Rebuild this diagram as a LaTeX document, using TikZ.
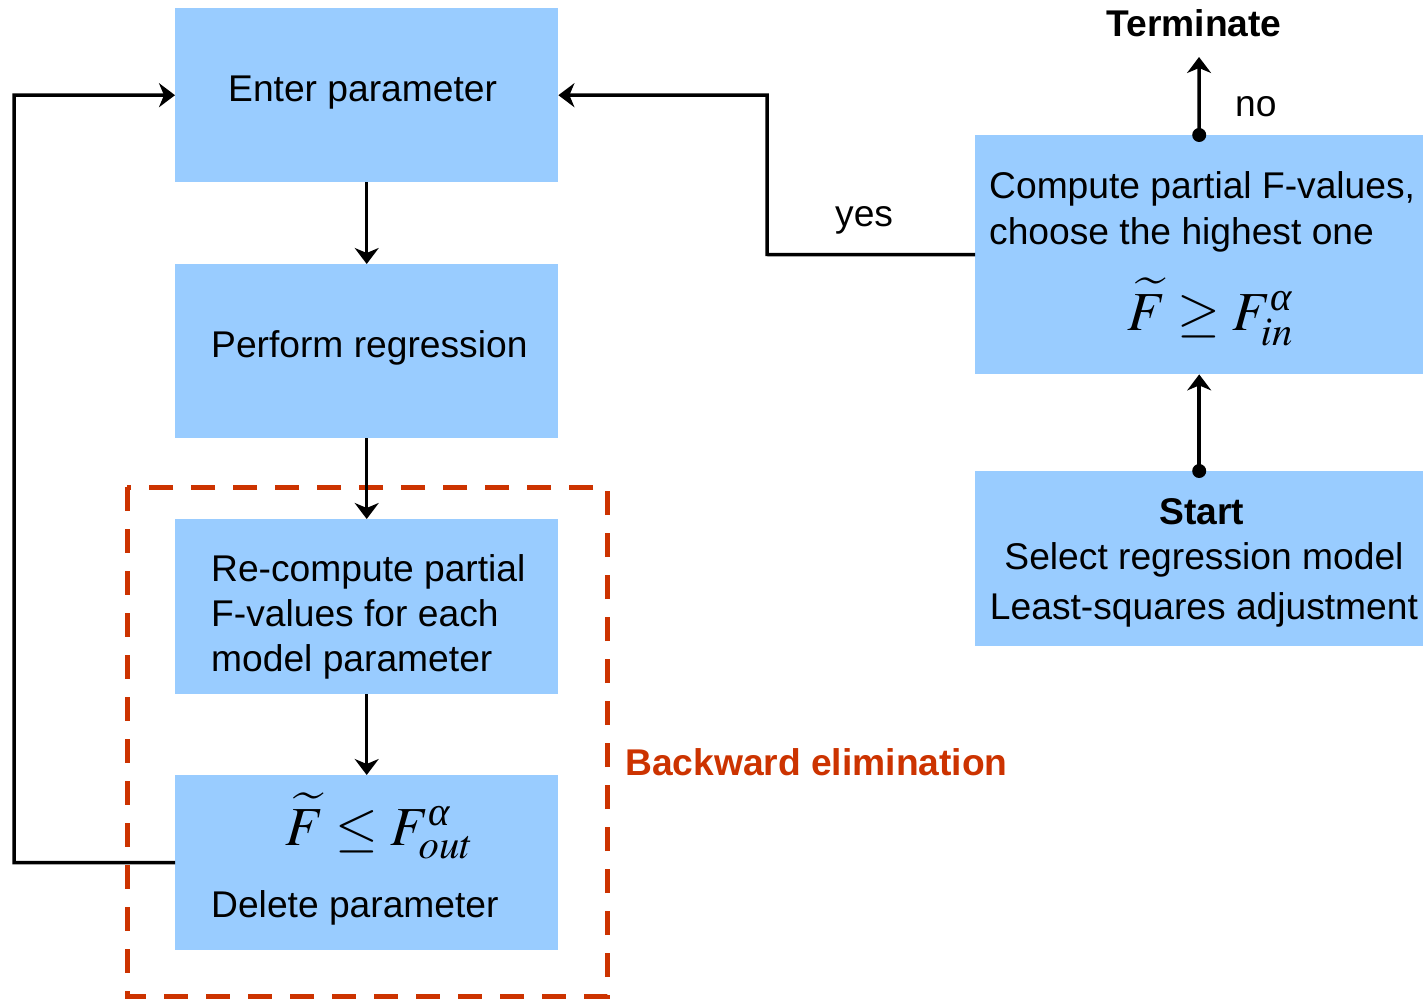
\documentclass[tikz,border=0pt]{standalone}
\usepackage{mathptmx}
\usepackage{amsmath}
\usepackage{fontspec}
\setmainfont{Liberation Sans}
\newfontfamily\libserif{Liberation Serif}
\newcommand{\italpha}{\text{\libserif\itshape α}}
\usetikzlibrary{arrows.meta}
\definecolor{boxblue}{HTML}{99CCFF}
\definecolor{elimred}{HTML}{CC3300}
\begin{document}
\begin{tikzpicture}[x=1pt,y=-1pt,
 box/.style={fill=boxblue, draw=none, minimum width=383pt, minimum height=174pt, inner sep=0pt, anchor=north west},
 txt/.style={font=\fontsize{37.2}{44}\selectfont, inner sep=0pt, anchor=base west},
 ctxt/.style={font=\fontsize{37.2}{44}\selectfont, inner sep=0pt, anchor=base},
 frm/.style={font=\fontsize{55}{60}\selectfont, inner sep=0pt, anchor=base west},
 conn/.style={line width=3.5pt, -{Stealth[length=16pt,width=24pt,inset=5pt]}},
 dotmark/.style={circle, fill=black, inner sep=0pt, minimum size=14pt}
]
\useasboundingbox (0,0) rectangle (1426,1000);

% boxes
\node[box] (enter) at (175,8) {};
\node[box] (perform) at (175,264) {};
\node[box, minimum height=175pt] (recomp) at (175,519) {};
\node[box, minimum height=175pt] (delete) at (175,775) {};
\node[box, minimum width=448pt, minimum height=239pt] (compute) at (975,135) {};
\node[box, minimum width=448pt, minimum height=175pt] (start) at (975,471) {};

% texts
\node[txt] (tenter) at (228,102) {Enter parameter};
\node[txt] (tperf) at (211,357) {Perform regression};
\node[txt] (trc1) at (211,581) {Re-compute partial};
\node[txt] (trc2) at (211,626) {F-values for each};
\node[txt] (trc3) at (211,671) {model parameter};
\node[frm] (fdel) at (285,845) {$\widetilde{F}\leq F^{\italpha}_{out}$};
\node[txt] (tdel) at (211,917) {Delete parameter};
\node[txt] (tcp1) at (989,199) {Compute partial F-values,};
\node[txt] (tcp2) at (989,244) {choose the highest one};
\node[frm] (fin) at (1127,330) {$\widetilde{F}\geq F^{\italpha}_{in}$};
\node[ctxt] (ts1) at (1202,524) {\bfseries Start};
\node[ctxt] (ts2) at (1204,569) {Select regression model};
\node[ctxt] (ts3) at (1204,619) {Least-squares adjustment};
\node[ctxt] (tterm) at (1194,37) {\bfseries Terminate};
\node[txt] (tno) at (1235,117) {no};
\node[txt] (tyes) at (835,227) {yes};
\node[txt, text=elimred] (tback) at (625,775) {\bfseries Backward elimination};

% dashed group frame
\draw[elimred, line width=5pt, dash pattern=on 24pt off 18pt, dash phase=0pt] (127,487) rectangle (607,996);

% connectors
\coordinate (lcorner) at (14,862.5);
\coordinate (rcorner) at (767,254.5);
\coordinate (termend) at (1199,57);
\draw[conn] (enter.south) -- (perform.north);
\draw[conn] (perform.south) -- (recomp.north);
\draw[conn] (recomp.south) -- (delete.north);
\draw[conn] (delete.west) -- (lcorner) |- (enter.west);
\draw[conn] (compute.west) -- (rcorner) |- (enter.east);
\draw[conn] (start.north) -- (compute.south);
\draw[conn] (compute.north) -- (termend);
\node[dotmark] (d1) at (start.north) {};
\node[dotmark] (d2) at (compute.north) {};
\end{tikzpicture}
\end{document}
